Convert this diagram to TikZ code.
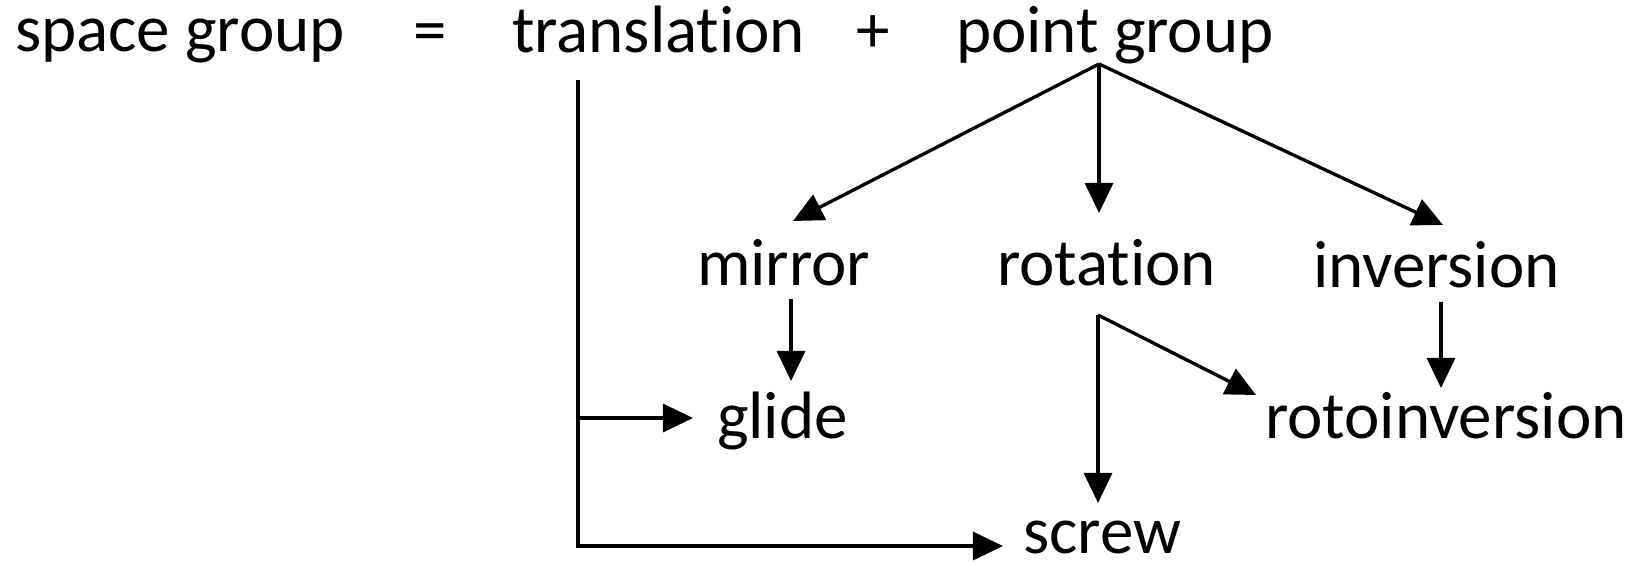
\documentclass[tikz,border=0pt]{standalone}
\usepackage{fontspec}
\setmainfont{Carlito}[Ligatures={NoCommon}]
\usetikzlibrary{arrows.meta}
\tikzset{
  lbl/.style={inner sep=0pt, outer sep=0pt, anchor=base west,
    font=\fontsize{19.06pt}{23pt}\selectfont},
  sym/.style={lbl, anchor=base},
  link/.style={line width=0.95pt, line cap=butt, line join=miter},
  arr/.style={link, -{Triangle[length=0.30cm, width=0.28cm]}}
}
\begin{document}
\begin{tikzpicture}[x=0.01cm, y=-0.01cm]
  \useasboundingbox (0,0) rectangle (1649,564);

  % top line: the equation
  \node[lbl] (sg) at (15,52) {space group};
  \node[sym] (eq) at (430,53) {=};
  \node[lbl] (tr) at (512,53) {translation};
  \node[sym] (plus) at (873,53) {+};
  \node[lbl] (pg) at (956,53) {point group};

  % second level
  \node[lbl] (mirror) at (697,285) {mirror};
  \node[lbl] (rot) at (997,285) {rotation};
  \node[lbl] (inv) at (1313,287) {inversion};

  % derived operations
  \node[lbl] (glide) at (717,438) {glide};
  \node[lbl] (roto) at (1265,438) {rotoinversion};
  \node[lbl, text depth=0pt] (screw) at (1023,553) {screw};

  % connector end points
  \coordinate (trTop) at (578,80);
  \coordinate (trGlide) at (578,418);
  \coordinate (trCorner) at (578,546);
  \coordinate (glideIn) at (693,418);
  \coordinate (screwIn) at (1003,546);
  \coordinate (pgRoot) at (1099,64);
  \coordinate (mirrorIn) at (793,221);
  \coordinate (rotIn) at (1099,213);
  \coordinate (invIn) at (1443,225);
  \coordinate (mirrorOut) at (791,299);
  \coordinate (glideTop) at (791,381);
  \coordinate (rotOut) at (1098,315);
  \coordinate (screwTop) at (1098,503);
  \coordinate (rotoIn) at (1256,395);
  \coordinate (invOut) at (1441,302);
  \coordinate (rotoTop) at (1441,388);

  % translation branch
  \draw[arr] (trTop) -- (trCorner) -- (screwIn);
  \draw[arr] (trGlide) -- (glideIn);

  % point group branches
  \draw[arr] (pgRoot) -- (mirrorIn);
  \draw[arr] (pgRoot) -- (rotIn);
  \draw[arr] (pgRoot) -- (invIn);

  % combinations
  \draw[arr] (mirrorOut) -- (glideTop);
  \draw[arr] (rotOut) -- (screwTop);
  \draw[arr] (rotOut) -- (rotoIn);
  \draw[arr] (invOut) -- (rotoTop);
\end{tikzpicture}
\end{document}
